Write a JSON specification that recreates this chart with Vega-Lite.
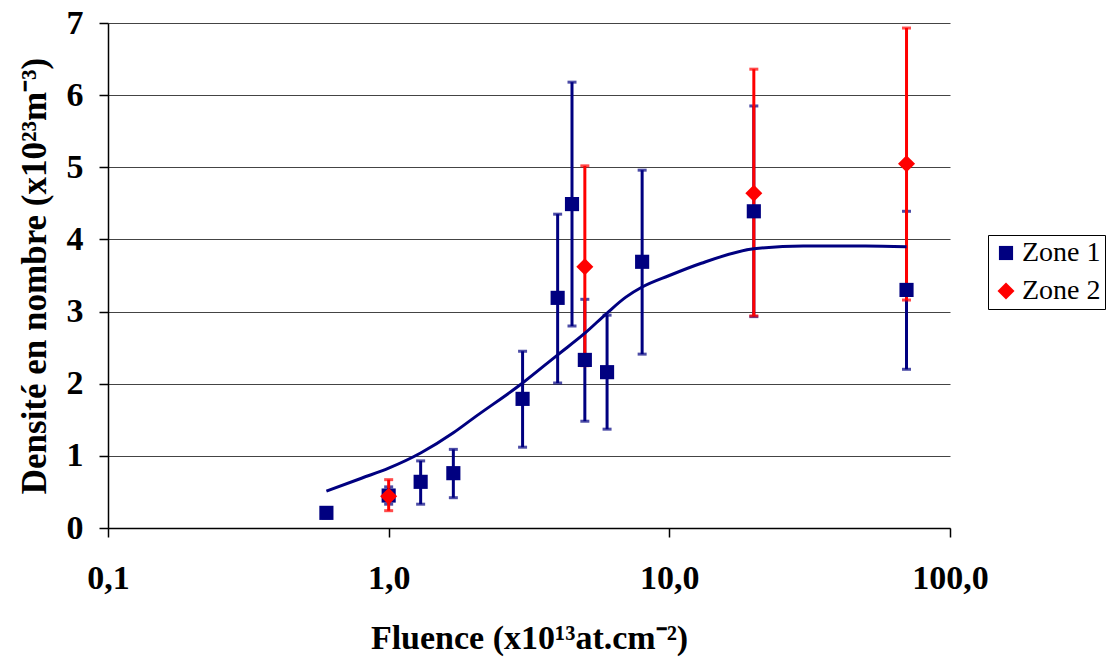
{
  "$schema": "https://vega.github.io/schema/vega-lite/v6.json",
  "width": 842,
  "height": 505,
  "autosize": "none",
  "padding": {"left": 108, "top": 23, "right": 157, "bottom": 133},
  "background": "white",
  "config": {
    "font": "Liberation Serif",
    "view": {"stroke": null},
    "axis": {"labelFont": "Liberation Serif", "titleFont": "Liberation Serif", "labelColor": "black", "titleColor": "black", "domainColor": "black", "tickColor": "black"},
    "legend": {"labelFont": "Liberation Serif", "titleFont": "Liberation Serif"}
  },
  "datasets": {
    "pts": [
      {"fluence": 0.6, "densite": 0.21, "lo": 0.14, "hi": 0.28, "series": "Zone 1"},
      {"fluence": 1.0, "densite": 0.45, "lo": 0.33, "hi": 0.57, "series": "Zone 1"},
      {"fluence": 1.3, "densite": 0.64, "lo": 0.33, "hi": 0.93, "series": "Zone 1"},
      {"fluence": 1.7, "densite": 0.76, "lo": 0.42, "hi": 1.09, "series": "Zone 1"},
      {"fluence": 3.0, "densite": 1.79, "lo": 1.12, "hi": 2.45, "series": "Zone 1"},
      {"fluence": 4.0, "densite": 3.19, "lo": 2.01, "hi": 4.35, "series": "Zone 1"},
      {"fluence": 4.5, "densite": 4.49, "lo": 2.8, "hi": 6.18, "series": "Zone 1"},
      {"fluence": 5.0, "densite": 2.33, "lo": 1.48, "hi": 3.17, "series": "Zone 1"},
      {"fluence": 6.0, "densite": 2.16, "lo": 1.37, "hi": 2.95, "series": "Zone 1"},
      {"fluence": 8.0, "densite": 3.69, "lo": 2.41, "hi": 4.96, "series": "Zone 1"},
      {"fluence": 20, "densite": 4.39, "lo": 2.93, "hi": 5.85, "series": "Zone 1"},
      {"fluence": 70, "densite": 3.3, "lo": 2.2, "hi": 4.39, "series": "Zone 1"},
      {"fluence": 1.0, "densite": 0.44, "lo": 0.24, "hi": 0.67, "series": "Zone 2"},
      {"fluence": 5.0, "densite": 3.62, "lo": 2.25, "hi": 5.02, "series": "Zone 2"},
      {"fluence": 20, "densite": 4.64, "lo": 2.94, "hi": 6.36, "series": "Zone 2"},
      {"fluence": 70, "densite": 5.05, "lo": 3.16, "hi": 6.93, "series": "Zone 2"}
    ],
    "fit": [
      {"fluence": 0.6, "densite": 0.51},
      {"fluence": 0.8, "densite": 0.69},
      {"fluence": 1.0, "densite": 0.83},
      {"fluence": 1.3, "densite": 1.04},
      {"fluence": 1.7, "densite": 1.32},
      {"fluence": 2.0, "densite": 1.52},
      {"fluence": 3.0, "densite": 2.01},
      {"fluence": 4.0, "densite": 2.4},
      {"fluence": 5.0, "densite": 2.7},
      {"fluence": 6.0, "densite": 2.98},
      {"fluence": 7.0, "densite": 3.2},
      {"fluence": 8.0, "densite": 3.34},
      {"fluence": 10, "densite": 3.5},
      {"fluence": 13, "densite": 3.67},
      {"fluence": 20, "densite": 3.87},
      {"fluence": 30, "densite": 3.91},
      {"fluence": 50, "densite": 3.91},
      {"fluence": 70, "densite": 3.9}
    ]
  },
  "encoding": {
    "x": {
      "field": "fluence", "type": "quantitative",
      "scale": {"type": "log", "domain": [0.1, 100], "nice": false},
      "axis": {
        "values": [0.1, 1, 10, 100],
        "labelExpr": "replace(format(datum.value, '.1f'), '.', ',')",
        "grid": false, "tickSize": 9, "labelPadding": 24, "labelFlush": false, "labelOverlap": false,
        "labelFontSize": 34, "labelFontWeight": "bold",
        "title": "Fluence (x10¹³at.cm⁻²)", "titleFontSize": 34, "titleFontWeight": "bold", "titlePadding": 26,
        "domainWidth": 1.5, "tickWidth": 1.5
      }
    },
    "y": {
      "field": "densite", "type": "quantitative",
      "scale": {"domain": [0, 7], "nice": false},
      "axis": {
        "values": [0, 1, 2, 3, 4, 5, 6, 7],
        "grid": true, "gridColor": "#444", "gridWidth": 1.2, "gridOpacity": 1,
        "tickSize": 9, "labelPadding": 16, "labelFlush": false, "labelOverlap": false,
        "labelFontSize": 34, "labelFontWeight": "bold",
        "title": "Densité en nombre (x10²³m⁻³)", "titleFontSize": 35, "titleFontWeight": "bold", "titlePadding": 14,
        "domainWidth": 1.5, "tickWidth": 1.5
      }
    }
  },
  "layer": [
    {
      "data": {"name": "pts"},
      "transform": [{"filter": "datum.series == 'Zone 1'"}],
      "layer": [
        {"mark": {"type": "rule", "color": "#000080", "strokeWidth": 3}, "encoding": {"y": {"field": "lo", "type": "quantitative"}, "y2": {"field": "hi"}}},
        {"mark": {"type": "tick", "color": "#000080", "orient": "horizontal", "size": 9, "thickness": 3}, "encoding": {"y": {"field": "lo", "type": "quantitative"}}},
        {"mark": {"type": "tick", "color": "#000080", "orient": "horizontal", "size": 9, "thickness": 3}, "encoding": {"y": {"field": "hi", "type": "quantitative"}}}
      ]
    },
    {
      "data": {"name": "pts"},
      "transform": [{"filter": "datum.series == 'Zone 2'"}],
      "layer": [
        {"mark": {"type": "rule", "color": "#FF0000", "strokeWidth": 3}, "encoding": {"y": {"field": "lo", "type": "quantitative"}, "y2": {"field": "hi"}}},
        {"mark": {"type": "tick", "color": "#FF0000", "orient": "horizontal", "size": 9, "thickness": 3}, "encoding": {"y": {"field": "lo", "type": "quantitative"}}},
        {"mark": {"type": "tick", "color": "#FF0000", "orient": "horizontal", "size": 9, "thickness": 3}, "encoding": {"y": {"field": "hi", "type": "quantitative"}}}
      ]
    },
    {
      "data": {"name": "fit"},
      "mark": {"type": "line", "color": "#000080", "strokeWidth": 3, "interpolate": "monotone"},
      "encoding": {}
    },
    {
      "data": {"name": "pts"},
      "mark": {"type": "point", "filled": true, "opacity": 1},
      "encoding": {
        "color": {
          "field": "series", "type": "nominal",
          "scale": {"domain": ["Zone 1", "Zone 2"], "range": ["#000080", "#FF0000"]},
          "legend": {
            "title": null, "orient": "none", "legendX": 880, "legendY": 212,
            "labelFont": "Liberation Serif", "labelFontSize": 28, "labelColor": "black", "labelOffset": 2,
            "symbolSize": 196, "rowPadding": 10, "padding": 4,
            "strokeColor": "black", "fillColor": "white", "symbolStrokeWidth": 0
          }
        },
        "shape": {
          "field": "series", "type": "nominal",
          "scale": {"domain": ["Zone 1", "Zone 2"], "range": ["square", "diamond"]}
        },
        "size": {
          "field": "series", "type": "nominal",
          "scale": {"domain": ["Zone 1", "Zone 2"], "range": [200, 290]},
          "legend": null
        }
      }
    }
  ]
}
